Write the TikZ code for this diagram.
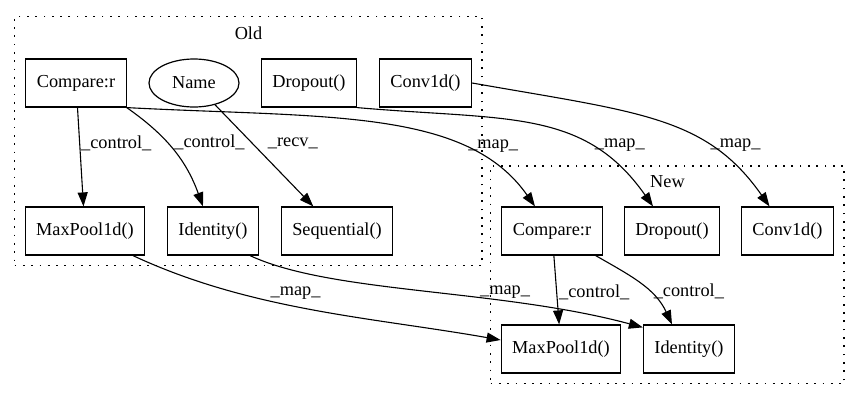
\documentclass[tikz,border=0pt]{standalone}
\usepackage{fontspec}
\setmainfont{Liberation Serif}
\usetikzlibrary{positioning,arrows.meta,fit,shapes.geometric}

\tikzset{
  op/.style={draw, rectangle, line width=1.2pt, minimum height=48pt, inner xsep=11pt},
  var/.style={draw, ellipse, line width=1.2pt, minimum width=90pt, minimum height=48pt, inner sep=0pt},
  title/.style={inner sep=0pt},
  cluster/.style={draw, line width=1.7pt, dash pattern=on 1.7pt off 6.6pt, inner sep=10pt},
  lbl/.style={anchor=west, inner sep=1pt},
  flow/.style={-{Triangle[length=14pt,width=10pt]}, line width=1.1pt}
}

\begin{document}
\begin{tikzpicture}[x=1pt, y=1pt, on grid, font=\fontsize{18.3}{21}\selectfont]
\useasboundingbox (0,0) rectangle (860,-400);
% old version
\node[op]    (oCmp)   at (76,-83)                          {Compare:r};
\node[var]   (oName)  [right=118pt of oCmp]                {Name};
\node[op]    (oDrop)  [right=115pt of oName]               {Dropout()};
\node[op]    (oConv)  [right=116.5pt of oDrop]             {Conv1d()};
\node[op]    (oMax)   [below right=148pt and 9pt of oCmp]  {MaxPool1d()};
\node[op]    (oId)    [right=128pt of oMax]                {Identity()};
\node[op]    (oSeq)   [right=124pt of oId]                 {Sequential()};
\node[title] (oTitle) at (248.5,-33)                       {Old};
\node[cluster, fit=(oTitle)(oCmp)(oConv)(oMax)(oSeq)] (old) {};
% new version
\node[op]    (nCmp)   [right=215pt of oSeq]                {Compare:r};
\node[op]    (nDrop)  [right=120pt of nCmp]                {Dropout()};
\node[op]    (nConv)  [right=115.5pt of nDrop]             {Conv1d()};
\node[op]    (nMax)   [below right=118pt and 9pt of nCmp]  {MaxPool1d()};
\node[op]    (nId)    [right=128pt of nMax]                {Identity()};
\node[title] (nTitle) at (667.5,-182)                      {New};
\node[cluster, fit=(nTitle)(nCmp)(nConv)(nMax)] (new) {};

\path[flow]
  (oCmp)                   edge node[lbl, pos=0.36] {\_control\_} (oMax)
  (oCmp.south east)        edge[out=-35, in=110] node[lbl, pos=0.41, xshift=6pt] {\_control\_} ([xshift=-10pt]oId.north)
  (oName)                  edge node[lbl, pos=0.38, xshift=14pt] {\_recv\_} (oSeq)
  (oCmp.south east)        edge[out=-3, in=125, out distance=200pt, in distance=120pt]
                                node[lbl, pos=0.72, xshift=6pt] {\_map\_} ([xshift=-17pt]nCmp.north)
  (oDrop.south east)       edge[out=-5, in=125, out distance=150pt, in distance=120pt]
                                node[lbl, pos=0.71, xshift=4pt] {\_map\_} ([xshift=-19pt]nDrop.north)
  (oConv.east)             edge[out=-10, in=125, out distance=170pt, in distance=110pt]
                                node[lbl, pos=0.7] {\_map\_} ([xshift=-18pt]nConv.north)
  ([xshift=48pt]oMax.south) edge[out=-25, in=170, out distance=130pt, in distance=130pt]
                                node[lbl, pos=0.38, yshift=8pt] {\_map\_} ([yshift=9pt]nMax.west)
  ([xshift=37pt]oId.south) edge[out=-25, in=165, out distance=90pt, in distance=150pt]
                                node[lbl, pos=0.63, yshift=6pt] {\_map\_} ([yshift=-3pt]nId.north west)
  (nCmp)                   edge node[lbl, pos=0.53, xshift=1pt] {\_control\_} (nMax)
  ([xshift=-7pt]nCmp.south east) edge[out=-30, in=115] node[lbl, pos=0.62, xshift=3pt] {\_control\_} ([xshift=-17pt]nId.north);
\end{tikzpicture}
\end{document}
